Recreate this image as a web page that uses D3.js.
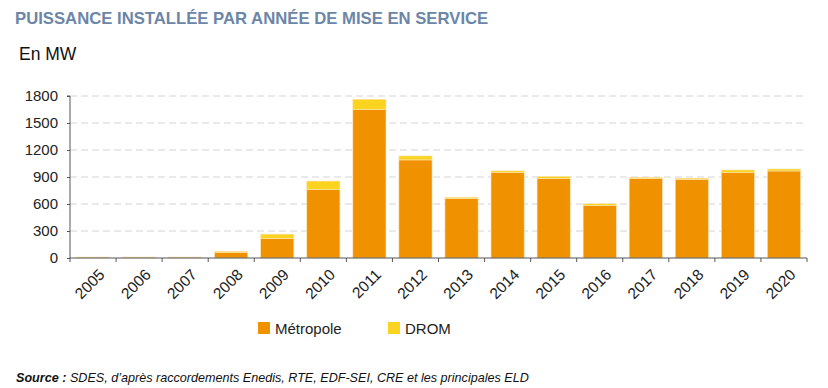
<html>
<head>
<meta charset="utf-8">
<script src="https://d3js.org/d3.v7.min.js"></script>
<style>
  body { margin: 0; background: #fff; font-family: "Liberation Sans", Arial, sans-serif; }
  .grid line { stroke: #d4d4d4; stroke-dasharray: 7,4; }
  .axis path, .axis line { stroke: #555; }
  .axis text { fill: #222; font-size: 15px; font-family: "Liberation Sans", Arial, sans-serif; }
</style>
</head>
<body>
<svg id="chart" width="828" height="388"></svg>
<script>
// annees de mise en service
const years = ["2005","2006","2007","2008","2009","2010","2011","2012","2013","2014","2015","2016","2017","2018","2019","2020"];
const metropole = [9, 9, 9, 62, 215, 760, 1648, 1090, 660, 950, 882, 582, 882, 875, 948, 967];
const drom = [1, 1, 1, 12, 50, 95, 116, 44, 15, 18, 25, 20, 14, 12, 30, 22];
const yTicks = [0, 300, 600, 900, 1200, 1500, 1800];
const seriesNames = ["Métropole", "DROM"];
const colors = ["#f09100", "#fcd31f"];

const svg = d3.select("#chart");
const margin = {left: 70, right: 21, top: 96, bottom: 130};
const width = 828 - margin.left - margin.right;
const height = 388 - margin.top - margin.bottom;

svg.append("text")
  .attr("x", 15).attr("y", 24)
  .style("font-size", "16.7px").style("font-weight", "bold")
  .style("fill", "#6c86a8")
  .text("PUISSANCE INSTALLÉE PAR ANNÉE DE MISE EN SERVICE");

svg.append("text")
  .attr("x", 19).attr("y", 60)
  .style("font-size", "17.5px").style("fill", "#111")
  .text("En MW");

const g = svg.append("g").attr("transform", "translate(" + margin.left + "," + margin.top + ")");

const x = d3.scaleBand().domain(years).range([0, width]).paddingInner(0.28).paddingOuter(0.14);
const xb = d3.scaleBand().domain(years).range([0, width]);
const y = d3.scaleLinear().domain([0, 1800]).range([height, 0]);

// grid
g.append("g").attr("class", "grid")
  .selectAll("line").data(yTicks.slice(1)).enter()
  .append("line")
  .attr("x1", 0).attr("x2", width)
  .attr("y1", d => y(d)).attr("y2", d => y(d));

const rows = years.map((yr, i) => ({year: yr, "Métropole": metropole[i], "DROM": drom[i]}));
const stacked = d3.stack().keys(seriesNames)(rows);

g.selectAll(".serie").data(stacked).enter()
  .append("g")
  .attr("fill", (d, i) => colors[i])
  .selectAll("rect").data(d => d).enter()
  .append("rect")
  .attr("x", d => x(d.data.year))
  .attr("width", x.bandwidth())
  .attr("y", d => y(d[1]))
  .attr("height", d => y(d[0]) - y(d[1]))
  .attr("stroke", "#fbe3b8")
  .attr("stroke-width", 0.6);

// y axis
const yAxis = g.append("g").attr("class", "axis")
  .call(d3.axisLeft(y).tickValues(yTicks).tickSize(3).tickPadding(9).tickFormat(d3.format("d")));
yAxis.select(".domain").attr("d", "M-3," + y(1800) + "H0V" + height);

// x axis with ticks at band boundaries
const xAxis = g.append("g").attr("class", "axis")
  .attr("transform", "translate(0," + height + ")");
xAxis.append("line").attr("x1", 0).attr("x2", width).attr("stroke", "#555");
xAxis.selectAll(".bt").data(years.concat(["end"])).enter()
  .append("line")
  .attr("x1", (d, i) => i * xb.step()).attr("x2", (d, i) => i * xb.step())
  .attr("y1", 0).attr("y2", 4)
  .attr("stroke", "#555");
xAxis.selectAll(".lab").data(years).enter()
  .append("text")
  .attr("transform", d => "translate(" + (xb(d) + xb.bandwidth() / 2 + 5) + ",10) rotate(-45)")
  .attr("text-anchor", "end")
  .attr("dy", "0.7em")
  .style("font-size", "15.5px")
  .text(d => d);

// legend
const legX = [258, 388];
const leg = svg.selectAll(".leg").data(seriesNames).enter()
  .append("g")
  .attr("transform", (d, i) => "translate(" + legX[i] + ",322)");
leg.append("rect").attr("width", 12).attr("height", 12).attr("fill", (d, i) => colors[i]);
leg.append("text").attr("x", 17).attr("y", 12)
  .style("font-size", "15px").style("fill", "#222")
  .text(d => d);

// source
const src = svg.append("text").attr("x", 16).attr("y", 382)
  .style("font-size", "12.6px").style("font-style", "italic").style("fill", "#111");
src.append("tspan").style("font-weight", "bold").text("Source :");
src.append("tspan").text(" SDES, d’après raccordements Enedis, RTE, EDF-SEI, CRE et les principales ELD");
</script>
</body>
</html>
